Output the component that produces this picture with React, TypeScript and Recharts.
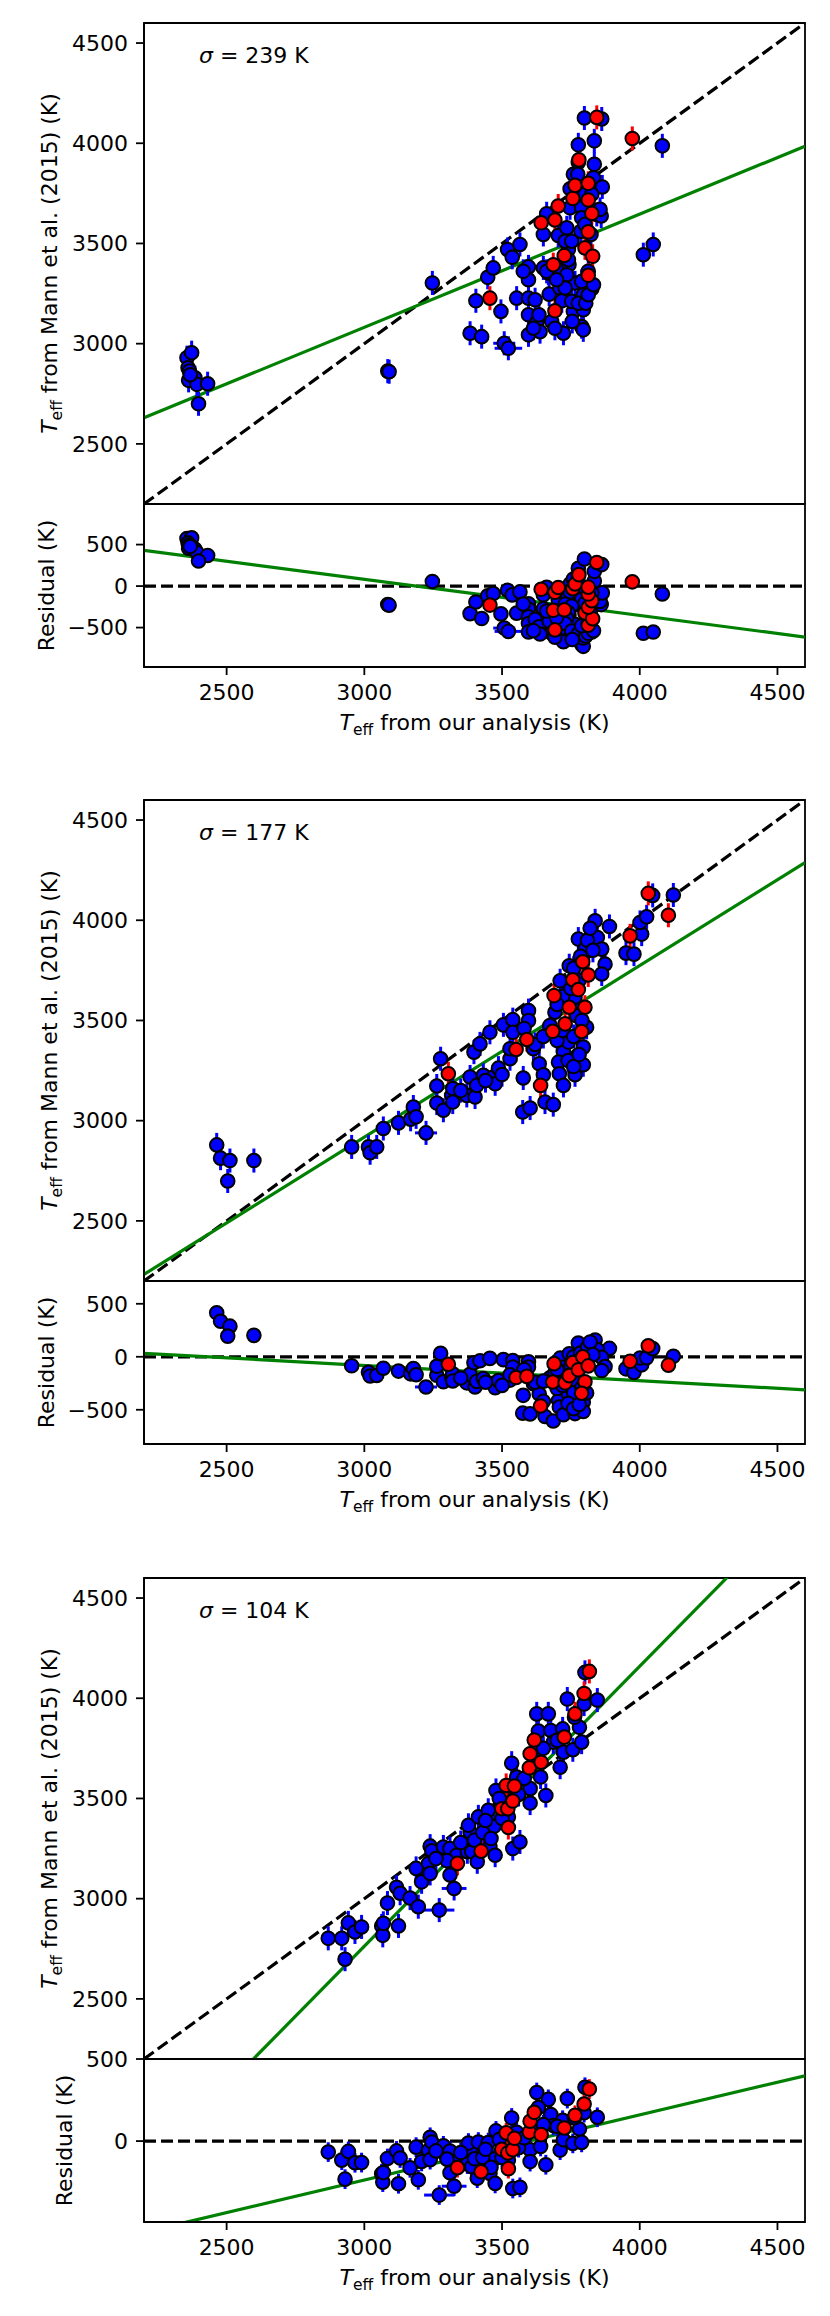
import React from 'react';
import {
  ScatterChart,
  Scatter,
  XAxis,
  YAxis,
  ErrorBar,
  ReferenceLine,
  ReferenceArea,
  Label,
} from 'recharts';

type Pt = [number, number, number?];

const FONT = '"DejaVu Sans", Verdana, sans-serif';
const T_DOMAIN: [number, number] = [2200, 4600];
const T_TICKS = [2500, 3000, 3500, 4000, 4500];
const MANN_ERR = 60; // typical Mann et al. uncertainty (K)

// ---- panel 1 : sigma = 239 K ----
// [ours, Mann, ours error]
const P1_BLUE: Pt[] = [
  [2356, 2930], [2373, 2955], [2360, 2880], [2365, 2863], [2362, 2817], [2385, 2830],
  [2392, 2797], [2431, 2800], [2398, 2700], [2368, 2845],
  [3085, 2863], [3090, 2860], [3247, 3303],
  [3384, 3052], [3426, 3035], [3508, 3002, 40], [3523, 2977, 50], [3405, 3214], [3496, 3161],
  [3448, 3331], [3468, 3378], [3520, 3470], [3537, 3431], [3565, 3495], [3553, 3227],
  [3596, 3383], [3596, 3319], [3596, 3227], [3596, 3144], [3596, 3044], [3620, 3219],
  [3626, 3106], [3634, 3144], [3650, 3378], [3668, 3353], [3671, 3247], [3680, 3111],
  [3704, 3378], [3710, 3278], [3717, 3214], [3723, 3052], [3741, 3470], [3743, 3394],
  [3704, 3540], [3735, 3578], [3650, 3545], [3662, 3648], [3765, 3303], [3759, 3161],
  [3795, 3244], [3789, 3085], [3795, 3069], [3795, 3169], [3826, 3274], [3823, 3545],
  [3786, 3561], [3844, 3645], [3860, 3637], [3856, 3670], [3747, 3773], [3832, 3828],
  [3864, 3782], [3759, 3845], [3777, 3904], [3835, 3895], [3775, 3845], [3777, 3992],
  [3835, 4012], [3799, 4126], [3862, 4121], [4082, 3987], [4013, 3444], [4049, 3495],
  [3747, 3678], [3789, 3678], [3801, 3745], [3826, 3745], [3789, 3628], [3801, 3595],
  [3729, 3511], [3753, 3511], [3741, 3419], [3735, 3344], [3729, 3278], [3753, 3211],
  [3777, 3202], [3804, 3202], [3813, 3244], [3789, 3311], [3813, 3361], [3832, 3294],
  [3755, 3111], [3692, 3077], [3638, 3060], [3614, 3077], [3577, 3361], [3662, 3361],
  [3698, 3319],
];
const P1_RED: Pt[] = [
  [3456, 3227], [3686, 3394], [3692, 3164], [3726, 3440], [3642, 3603], [3692, 3617],
  [3704, 3687], [3813, 3341], [3801, 3478], [3829, 3436], [3813, 3558], [3826, 3650],
  [3813, 3717], [3757, 3725], [3765, 3790], [3813, 3800], [3779, 3917], [3844, 4129],
  [3973, 4024],
];
const P1_FIT: Pt[] = [[2200, 2630], [4600, 3985]];

// ---- panel 2 : sigma = 177 K ----
const P2_BLUE: Pt[] = [
  [2464, 2879], [2478, 2813], [2512, 2801], [2504, 2699], [2599, 2801],
  [2954, 2869], [3015, 2869], [3021, 2840], [3045, 2869], [3069, 2961], [3124, 2989],
  [3168, 3007], [3178, 3068], [3188, 3019], [3224, 2939, 40], [3263, 3088], [3263, 3173],
  [3287, 3052], [3277, 3309], [3317, 3126], [3321, 3160], [3321, 3093], [3372, 3126],
  [3384, 3218], [3402, 3118], [3408, 3176], [3398, 3342], [3420, 3383], [3432, 3226],
  [3456, 3441], [3468, 3218], [3475, 3184], [3487, 3262], [3505, 3478], [3539, 3504],
  [3539, 3441], [3529, 3309], [3529, 3359], [3577, 3213], [3575, 3043], [3602, 3063],
  [3596, 3549], [3596, 3499], [3614, 3359], [3635, 3284], [3650, 3229], [3656, 3093],
  [3686, 3080], [3674, 3475], [3692, 3541], [3711, 3698], [3723, 3342], [3705, 3292],
  [3708, 3234], [3723, 3176], [3741, 3392], [3744, 3773], [3765, 3616], [3771, 3524],
  [3774, 3325], [3765, 3229], [3777, 3906], [3801, 3856], [3795, 3367], [3795, 3279],
  [3807, 3466], [3838, 3997], [3890, 3969], [3846, 3914], [3862, 3856], [3874, 3781],
  [3862, 3732], [3950, 3836], [3979, 3831], [4007, 3931], [4001, 3989], [4025, 4017],
  [4047, 4124], [4122, 4126],
  [3720, 3620], [3750, 3660], [3780, 3700], [3700, 3580], [3760, 3760], [3785, 3820],
  [3810, 3900], [3700, 3400], [3720, 3450], [3760, 3420], [3790, 3500], [3740, 3300],
  [3760, 3270], [3780, 3330], [3620, 3380], [3650, 3420], [3580, 3460], [3500, 3230],
  [3440, 3200], [3350, 3150], [3820, 3960], [3830, 3850],
];
const P2_RED: Pt[] = [
  [3305, 3234], [3551, 3355], [3590, 3405], [3640, 3176], [3684, 3446], [3689, 3624],
  [3729, 3483], [3757, 3703], [3744, 3566], [3777, 3654], [3793, 3793], [3813, 3727],
  [3801, 3566], [3789, 3445], [3965, 3922], [4031, 4134], [4104, 4025],
];
const P2_FIT: Pt[] = [[2200, 2233], [4600, 4288]];

// ---- panel 3 : sigma = 104 K ----
const P3_BLUE: Pt[] = [
  [2869, 2802, 25], [2918, 2802, 20], [2942, 2879], [2966, 2834], [2990, 2859],
  [2930, 2698, 25], [3063, 2864, 20], [3067, 2817, 25], [3084, 2978], [3124, 2864],
  [3117, 3057], [3130, 3027], [3166, 3003], [3069, 2877], [3196, 2960], [3272, 2943, 55],
  [3188, 3151], [3208, 3084], [3233, 3176], [3239, 3126], [3239, 3262], [3245, 3239],
  [3285, 3217], [3287, 3258], [3311, 3118], [3326, 3051, 45], [3311, 3250], [3335, 3217],
  [3374, 3234], [3390, 3234], [3410, 3184], [3384, 3333], [3378, 3366], [3414, 3408],
  [3400, 3292], [3450, 3441], [3456, 3259], [3475, 3217], [3471, 3361], [3478, 3540],
  [3523, 3408], [3539, 3250], [3565, 3283], [3553, 3607], [3602, 3549], [3602, 3477],
  [3535, 3676], [3640, 3607], [3659, 3515], [3626, 3922], [3668, 3922], [3632, 3836],
  [3677, 3839], [3686, 3781], [3711, 3656], [3723, 3731], [3757, 3743], [3720, 3847],
  [3781, 3855], [3789, 3781], [3763, 3905], [3798, 3971], [3737, 3996], [3846, 3991],
  [3801, 4129],
  [3430, 3330], [3440, 3390], [3490, 3500], [3560, 3520], [3580, 3600], [3620, 3700],
  [3650, 3750], [3700, 3790], [3350, 3280], [3300, 3190], [3260, 3200], [3500, 3400],
  [3460, 3300],
];
const P3_RED: Pt[] = [
  [3338, 3176], [3424, 3237], [3499, 3449], [3521, 3449], [3523, 3355], [3539, 3487],
  [3515, 3565], [3545, 3562], [3599, 3653], [3602, 3723], [3642, 3681], [3617, 3792],
  [3726, 3806], [3765, 3922], [3798, 4024], [3817, 4134],
];
const P3_FIT: Pt[] = [[2200, 1645], [4600, 4998]];

const SIGMAS = [239, 177, 104];
const RES_DOMAINS: [number, number][] = [[-975, 989], [-823, 715], [-493, 500]];
const RES_TICKS = [[-500, 0, 500], [-500, 0, 500], [0, 500]];

// layout
const W = 830;
const PLOT_LEFT = 144;
const RIGHT = 25;
const PAD = 24;
const RPAD = 16;
const MAIN_H = 481;
const RES_H = 163;
const PANEL_TOPS = [22.7, 800.4, 1578.2];
const RES_LABEL_X = [54, 54, 71.5];

const toRows = (pts: Pt[]) =>
  pts.map(([x, y, ex]) => ({ x, y, r: y - x, ex: ex ?? 0, ey: MANN_ERR }));

const dot = (fill: string) => (props: any) =>
  <circle cx={props.cx} cy={props.cy} r={6.8} fill={fill} stroke="#000" strokeWidth={2} />;

const fmt = (v: number) => (v < 0 ? `\u2212${-v}` : `${v}`);

const axisStyle = { stroke: '#000', strokeWidth: 1.8 };
const tickStyle = { fill: '#000', fontSize: 22, fontFamily: FONT };

function Teff({ x, y, rest, rotate }: { x: number; y: number; rest: string; rotate?: boolean }) {
  return (
    <text
      x={x}
      y={y}
      transform={rotate ? `rotate(-90 ${x} ${y})` : undefined}
      textAnchor="middle"
      fontFamily={FONT}
      fontSize={22}
      fill="#000"
    >
      <tspan fontStyle="italic">T</tspan>
      <tspan fontSize={15.5} dy={5}>eff</tspan>
      <tspan dy={-5}>{rest}</tspan>
    </text>
  );
}

function Panel({ idx, blue, red, fit }: { idx: number; blue: Pt[]; red: Pt[]; fit: Pt[] }) {
  const top = PANEL_TOPS[idx];
  const blueRows = toRows(blue);
  const redRows = toRows(red);
  const fitMain = fit.map(([x, y]) => ({ x, y }));
  const fitRes = fit.map(([x, y]) => ({ x, y: y - x }));
  const plotCx = (PLOT_LEFT + W - RIGHT) / 2;

  const series = (key: string) => [
    <Scatter key="b" data={blueRows} dataKey={key} shape={dot('#0000ff')} isAnimationActive={false}>
      <ErrorBar dataKey="ex" direction="x" width={0} stroke="#0000ff" strokeWidth={3} isAnimationActive={false} />
      <ErrorBar dataKey="ey" direction="y" width={0} stroke="#0000ff" strokeWidth={3} isAnimationActive={false} />
    </Scatter>,
    <Scatter key="r" data={redRows} dataKey={key} shape={dot('#ff0000')} isAnimationActive={false}>
      <ErrorBar dataKey="ex" direction="x" width={0} stroke="#ff0000" strokeWidth={3} isAnimationActive={false} />
      <ErrorBar dataKey="ey" direction="y" width={0} stroke="#ff0000" strokeWidth={3} isAnimationActive={false} />
    </Scatter>,
  ];

  return (
    <>
      <div style={{ position: 'absolute', left: 0, top: top - PAD }}>
        <ScatterChart width={W} height={PAD + MAIN_H} margin={{ top: PAD, right: RIGHT, bottom: 0, left: 0 }}>
          <XAxis type="number" dataKey="x" domain={T_DOMAIN} allowDataOverflow hide />
          <YAxis
            type="number"
            dataKey="y"
            domain={T_DOMAIN}
            ticks={T_TICKS}
            interval={0}
            allowDataOverflow
            width={PLOT_LEFT}
            tickSize={8}
            tickMargin={8}
            axisLine={axisStyle}
            tickLine={axisStyle}
            tick={tickStyle}
          >
            <Label
              content={() => (
                <Teff x={57} y={PAD + MAIN_H / 2} rotate rest=" from Mann et al. (2015) (K)" />
              )}
            />
          </YAxis>
          <ReferenceLine
            segment={[{ x: T_DOMAIN[0], y: T_DOMAIN[0] }, { x: T_DOMAIN[1], y: T_DOMAIN[1] }]}
            stroke="#000"
            strokeWidth={3.2}
            strokeDasharray="12 5"
            ifOverflow="hidden"
          />
          <ReferenceLine segment={fitMain} stroke="#008000" strokeWidth={3.2} ifOverflow="hidden" />
          {series('y')}
          <ReferenceArea
            x1={T_DOMAIN[0]}
            x2={T_DOMAIN[1]}
            y1={T_DOMAIN[0]}
            y2={T_DOMAIN[1]}
            fill="none"
            stroke="#000"
            strokeWidth={1.8}
            ifOverflow="visible"
            label={() => (
              <text x={199} y={PAD + 39.6} fontFamily={FONT} fontSize={22} fill="#000">
                <tspan fontStyle="italic">σ</tspan>
                <tspan>{` = ${SIGMAS[idx]} K`}</tspan>
              </text>
            )}
          />
        </ScatterChart>
      </div>
      <div style={{ position: 'absolute', left: 0, top: top + MAIN_H - RPAD }}>
        <ScatterChart width={W} height={RPAD + RES_H + 80} margin={{ top: RPAD, right: RIGHT, bottom: 0, left: 0 }}>
          <XAxis
            type="number"
            dataKey="x"
            domain={T_DOMAIN}
            ticks={T_TICKS}
            interval={0}
            allowDataOverflow
            height={80}
            tickSize={8}
            tickMargin={9}
            axisLine={axisStyle}
            tickLine={axisStyle}
            tick={tickStyle}
          >
            <Label content={() => <Teff x={plotCx} y={RPAD + RES_H + 63} rest=" from our analysis (K)" />} />
          </XAxis>
          <YAxis
            type="number"
            dataKey="r"
            domain={RES_DOMAINS[idx]}
            ticks={RES_TICKS[idx]}
            interval={0}
            allowDataOverflow
            width={PLOT_LEFT}
            tickSize={8}
            tickMargin={8}
            tickFormatter={fmt}
            axisLine={axisStyle}
            tickLine={axisStyle}
            tick={tickStyle}
          >
            <Label
              content={() => {
                const x = RES_LABEL_X[idx];
                const y = RPAD + RES_H / 2;
                return (
                  <text
                    x={x}
                    y={y}
                    transform={`rotate(-90 ${x} ${y})`}
                    textAnchor="middle"
                    fontFamily={FONT}
                    fontSize={22}
                    fill="#000"
                  >
                    Residual (K)
                  </text>
                );
              }}
            />
          </YAxis>
          <ReferenceLine y={0} stroke="#000" strokeWidth={3.2} strokeDasharray="12 5" />
          <ReferenceLine segment={fitRes} stroke="#008000" strokeWidth={3.2} ifOverflow="hidden" />
          {series('r')}
          <ReferenceArea
            x1={T_DOMAIN[0]}
            x2={T_DOMAIN[1]}
            y1={RES_DOMAINS[idx][0]}
            y2={RES_DOMAINS[idx][1]}
            fill="none"
            stroke="#000"
            strokeWidth={1.8}
            ifOverflow="visible"
          />
        </ScatterChart>
      </div>
    </>
  );
}

export default function App() {
  return (
    <div style={{ position: 'absolute', left: 0, top: 0, width: W, height: 2316, background: '#fff' }}>
      <Panel idx={0} blue={P1_BLUE} red={P1_RED} fit={P1_FIT} />
      <Panel idx={1} blue={P2_BLUE} red={P2_RED} fit={P2_FIT} />
      <Panel idx={2} blue={P3_BLUE} red={P3_RED} fit={P3_FIT} />
    </div>
  );
}
